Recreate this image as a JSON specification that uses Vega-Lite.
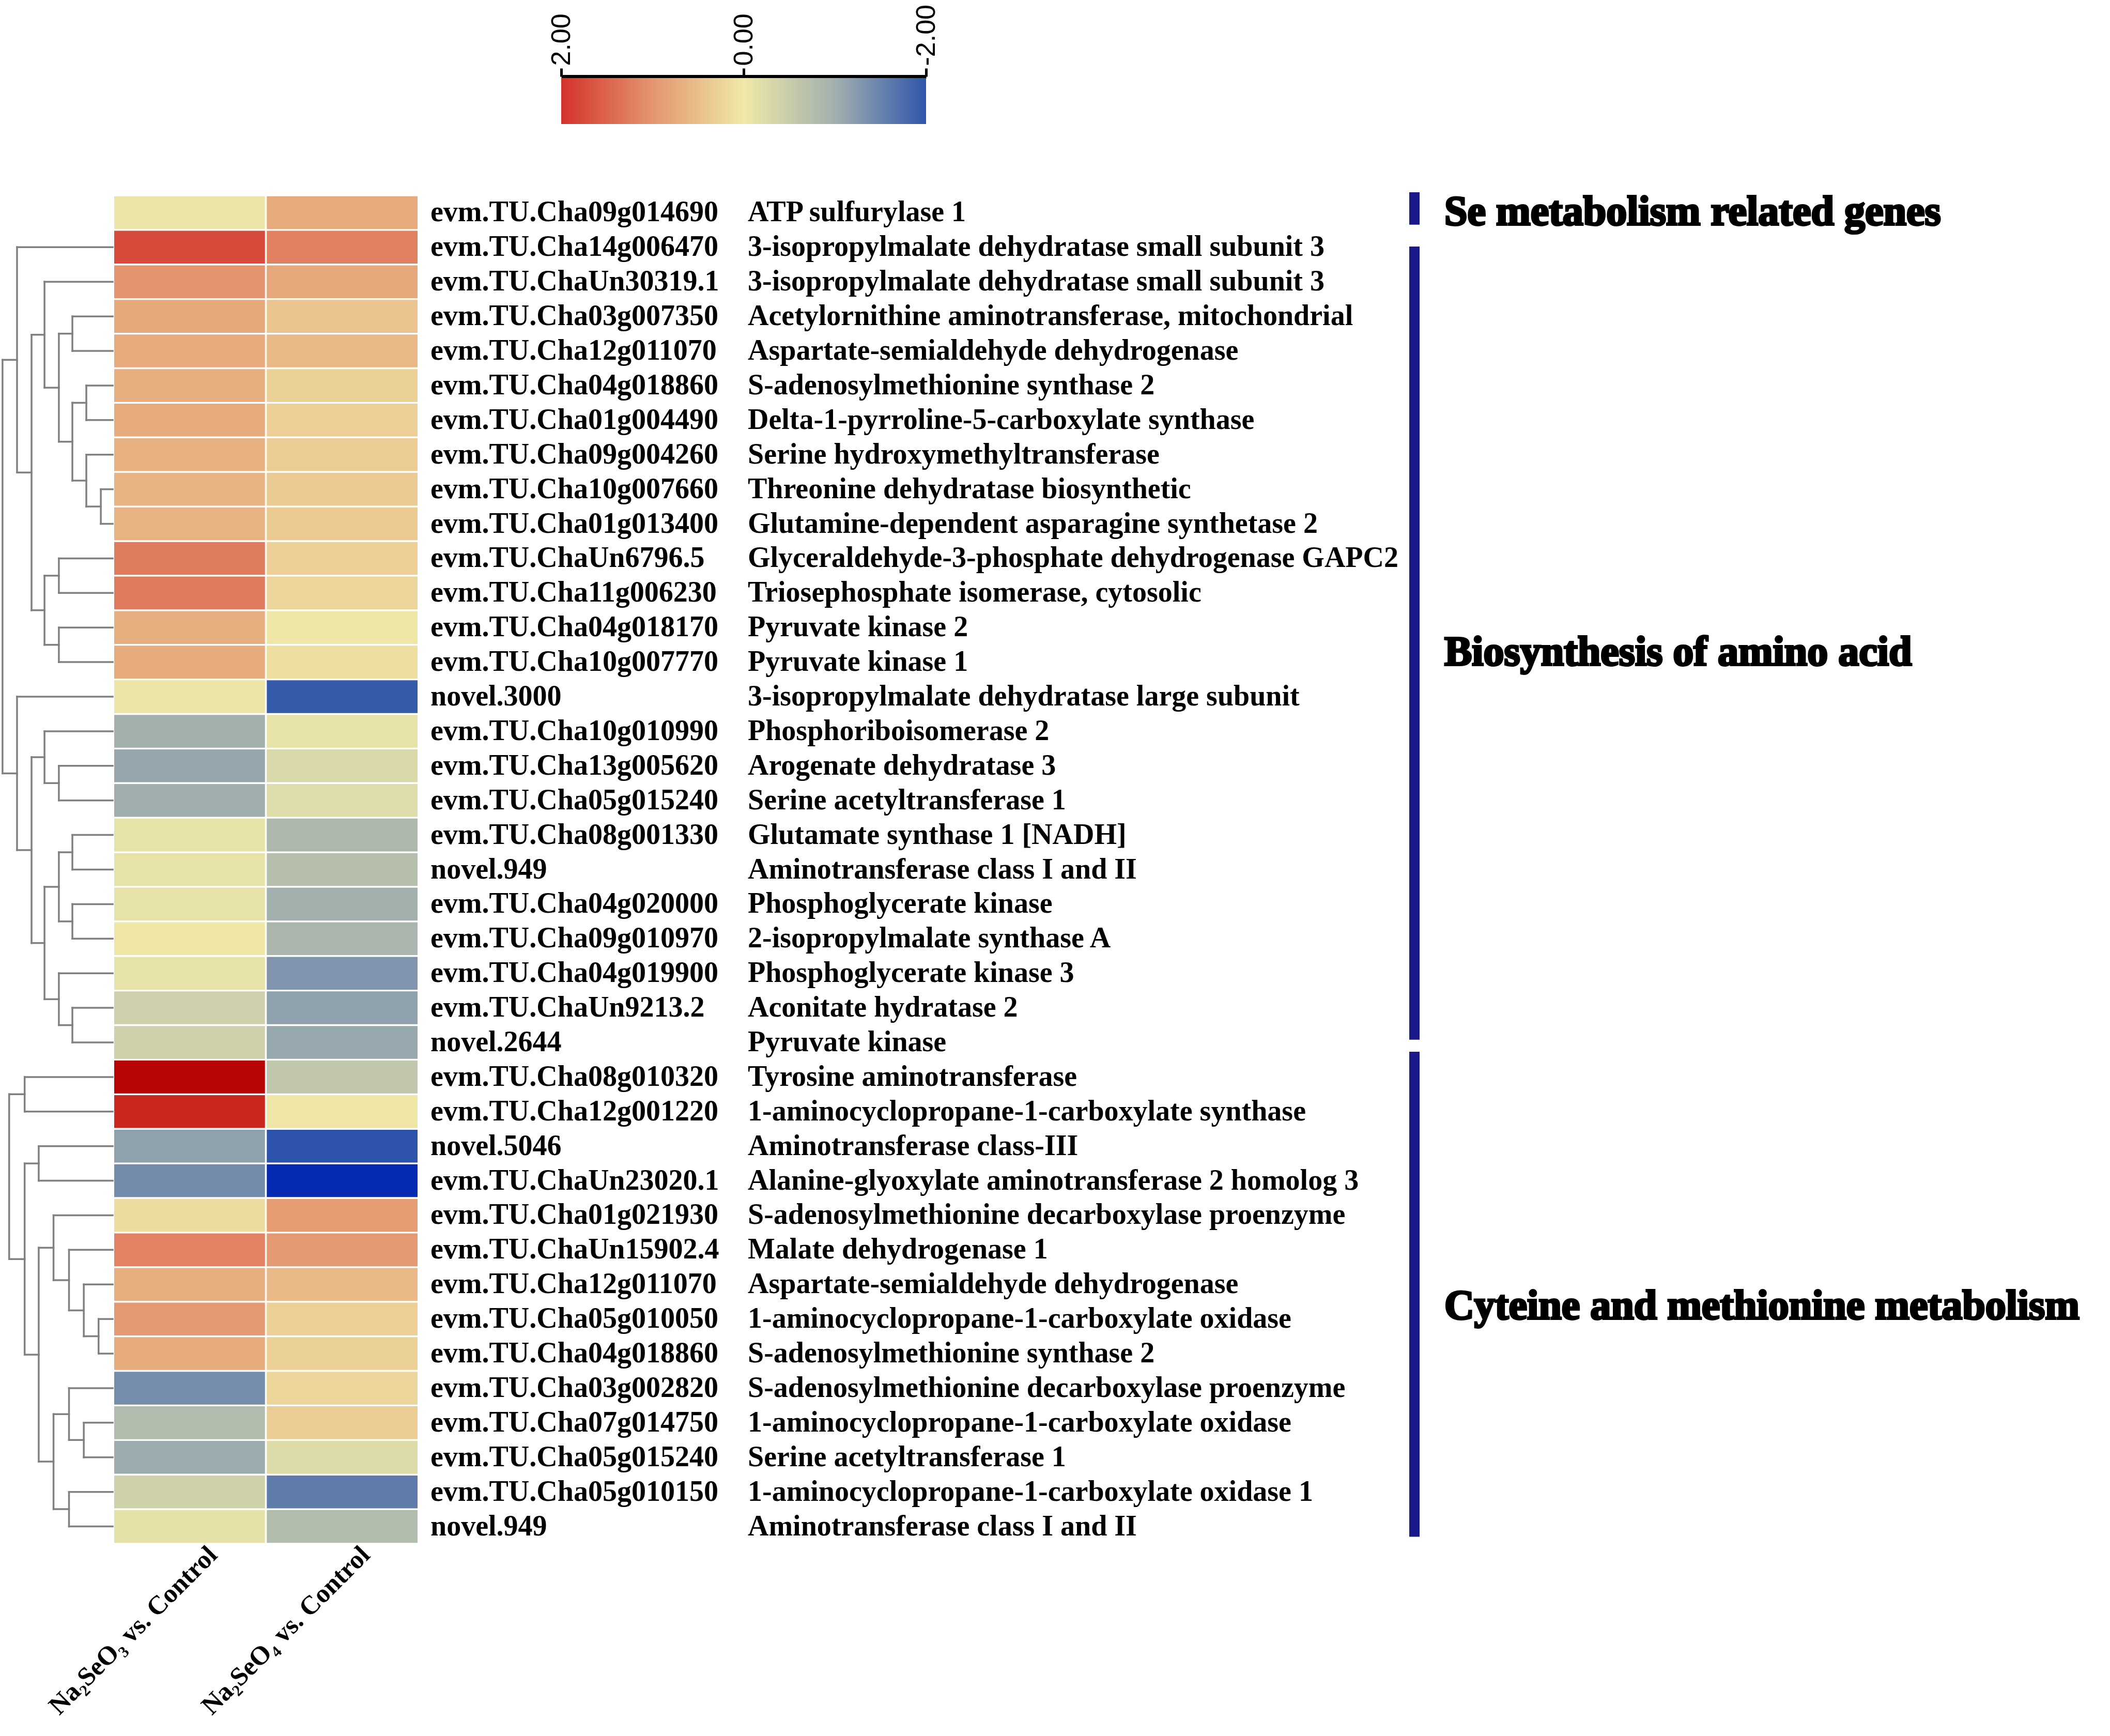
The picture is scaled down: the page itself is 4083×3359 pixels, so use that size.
{
  "$schema": "https://vega.github.io/schema/vega-lite/v6.json",
  "width": 4083,
  "height": 3359,
  "padding": 0,
  "autosize": {"type": "none"},
  "background": "white",
  "config": {"view": {"stroke": null}, "font": "Liberation Serif"},
  "datasets": {
    "genes": [
      {"key": "r00", "group": "Se", "id": "evm.TU.Cha09g014690", "desc": "ATP sulfurylase 1", "S3": -0.05, "S4": 0.75},
      {"key": "r01", "group": "Bio", "id": "evm.TU.Cha14g006470", "desc": "3-isopropylmalate dehydratase small subunit 3", "S3": 1.76, "S4": 1.21},
      {"key": "r02", "group": "Bio", "id": "evm.TU.ChaUn30319.1", "desc": "3-isopropylmalate dehydratase small subunit 3", "S3": 1.0, "S4": 0.79},
      {"key": "r03", "group": "Bio", "id": "evm.TU.Cha03g007350", "desc": "Acetylornithine aminotransferase, mitochondrial", "S3": 0.76, "S4": 0.43},
      {"key": "r04", "group": "Bio", "id": "evm.TU.Cha12g011070", "desc": "Aspartate-semialdehyde dehydrogenase", "S3": 0.75, "S4": 0.57},
      {"key": "r05", "group": "Bio", "id": "evm.TU.Cha04g018860", "desc": "S-adenosylmethionine synthase 2", "S3": 0.7, "S4": 0.29},
      {"key": "r06", "group": "Bio", "id": "evm.TU.Cha01g004490", "desc": "Delta-1-pyrroline-5-carboxylate synthase", "S3": 0.73, "S4": 0.31},
      {"key": "r07", "group": "Bio", "id": "evm.TU.Cha09g004260", "desc": "Serine hydroxymethyltransferase", "S3": 0.67, "S4": 0.35},
      {"key": "r08", "group": "Bio", "id": "evm.TU.Cha10g007660", "desc": "Threonine dehydratase biosynthetic", "S3": 0.63, "S4": 0.36},
      {"key": "r09", "group": "Bio", "id": "evm.TU.Cha01g013400", "desc": "Glutamine-dependent asparagine synthetase 2", "S3": 0.64, "S4": 0.37},
      {"key": "r10", "group": "Bio", "id": "evm.TU.ChaUn6796.5", "desc": "Glyceraldehyde-3-phosphate dehydrogenase GAPC2", "S3": 1.25, "S4": 0.3},
      {"key": "r11", "group": "Bio", "id": "evm.TU.Cha11g006230", "desc": "Triosephosphate isomerase, cytosolic", "S3": 1.27, "S4": 0.24},
      {"key": "r12", "group": "Bio", "id": "evm.TU.Cha04g018170", "desc": "Pyruvate kinase 2", "S3": 0.7, "S4": 0.02},
      {"key": "r13", "group": "Bio", "id": "evm.TU.Cha10g007770", "desc": "Pyruvate kinase 1", "S3": 0.73, "S4": 0.12},
      {"key": "r14", "group": "Bio", "id": "novel.3000", "desc": "3-isopropylmalate dehydratase large subunit", "S3": -0.05, "S4": -1.95},
      {"key": "r15", "group": "Bio", "id": "evm.TU.Cha10g010990", "desc": "Phosphoriboisomerase 2", "S3": -0.99, "S4": -0.1},
      {"key": "r16", "group": "Bio", "id": "evm.TU.Cha13g005620", "desc": "Arogenate dehydratase 3", "S3": -1.11, "S4": -0.29},
      {"key": "r17", "group": "Bio", "id": "evm.TU.Cha05g015240", "desc": "Serine acetyltransferase 1", "S3": -1.02, "S4": -0.22},
      {"key": "r18", "group": "Bio", "id": "evm.TU.Cha08g001330", "desc": "Glutamate synthase 1 [NADH]", "S3": -0.12, "S4": -0.84},
      {"key": "r19", "group": "Bio", "id": "novel.949", "desc": "Aminotransferase class I and II", "S3": -0.12, "S4": -0.74},
      {"key": "r20", "group": "Bio", "id": "evm.TU.Cha04g020000", "desc": "Phosphoglycerate kinase", "S3": -0.11, "S4": -0.99},
      {"key": "r21", "group": "Bio", "id": "evm.TU.Cha09g010970", "desc": "2-isopropylmalate synthase A", "S3": 0.03, "S4": -0.9},
      {"key": "r22", "group": "Bio", "id": "evm.TU.Cha04g019900", "desc": "Phosphoglycerate kinase 3", "S3": -0.11, "S4": -1.3},
      {"key": "r23", "group": "Bio", "id": "evm.TU.ChaUn9213.2", "desc": "Aconitate hydratase 2", "S3": -0.44, "S4": -1.17},
      {"key": "r24", "group": "Bio", "id": "novel.2644", "desc": "Pyruvate kinase", "S3": -0.42, "S4": -1.1},
      {"key": "r25", "group": "Cys", "id": "evm.TU.Cha08g010320", "desc": "Tyrosine aminotransferase", "S3": 2.9, "S4": -0.62},
      {"key": "r26", "group": "Cys", "id": "evm.TU.Cha12g001220", "desc": "1-aminocyclopropane-1-carboxylate synthase", "S3": 2.24, "S4": 0.04},
      {"key": "r27", "group": "Cys", "id": "novel.5046", "desc": "Aminotransferase class-III", "S3": -1.17, "S4": -2.05},
      {"key": "r28", "group": "Cys", "id": "evm.TU.ChaUn23020.1", "desc": "Alanine-glyoxylate aminotransferase 2 homolog 3", "S3": -1.4, "S4": -2.9},
      {"key": "r29", "group": "Cys", "id": "evm.TU.Cha01g021930", "desc": "S-adenosylmethionine decarboxylase proenzyme", "S3": 0.15, "S4": 0.92},
      {"key": "r30", "group": "Cys", "id": "evm.TU.ChaUn15902.4", "desc": "Malate dehydrogenase 1", "S3": 1.19, "S4": 0.95},
      {"key": "r31", "group": "Cys", "id": "evm.TU.Cha12g011070", "desc": "Aspartate-semialdehyde dehydrogenase", "S3": 0.7, "S4": 0.57},
      {"key": "r32", "group": "Cys", "id": "evm.TU.Cha05g010050", "desc": "1-aminocyclopropane-1-carboxylate oxidase", "S3": 0.95, "S4": 0.3},
      {"key": "r33", "group": "Cys", "id": "evm.TU.Cha04g018860", "desc": "S-adenosylmethionine synthase 2", "S3": 0.73, "S4": 0.29},
      {"key": "r34", "group": "Cys", "id": "evm.TU.Cha03g002820", "desc": "S-adenosylmethionine decarboxylase proenzyme", "S3": -1.39, "S4": 0.24},
      {"key": "r35", "group": "Cys", "id": "evm.TU.Cha07g014750", "desc": "1-aminocyclopropane-1-carboxylate oxidase", "S3": -0.79, "S4": 0.35},
      {"key": "r36", "group": "Cys", "id": "evm.TU.Cha05g015240", "desc": "Serine acetyltransferase 1", "S3": -1.06, "S4": -0.23},
      {"key": "r37", "group": "Cys", "id": "evm.TU.Cha05g010150", "desc": "1-aminocyclopropane-1-carboxylate oxidase 1", "S3": -0.42, "S4": -1.58},
      {"key": "r38", "group": "Cys", "id": "novel.949", "desc": "Aminotransferase class I and II", "S3": -0.13, "S4": -0.79}
    ],
    "segments": [
      {"h1": 0.84, "h2": 0.84, "y1": 8, "y2": 9},
      {"h1": 1.87, "h2": 1.87, "y1": 5, "y2": 6},
      {"h1": 1.87, "h2": 1.87, "y1": 7, "y2": 8.5},
      {"h1": 2.86, "h2": 2.86, "y1": 3, "y2": 4},
      {"h1": 2.86, "h2": 2.86, "y1": 5.5, "y2": 7.75},
      {"h1": 3.82, "h2": 3.82, "y1": 3.5, "y2": 6.625},
      {"h1": 4.84, "h2": 4.84, "y1": 2, "y2": 5.0625},
      {"h1": 3.82, "h2": 3.82, "y1": 10, "y2": 11},
      {"h1": 3.82, "h2": 3.82, "y1": 12, "y2": 13},
      {"h1": 4.84, "h2": 4.84, "y1": 10.5, "y2": 12.5},
      {"h1": 5.76, "h2": 5.76, "y1": 3.53125, "y2": 11.5},
      {"h1": 6.79, "h2": 6.79, "y1": 1, "y2": 7.515625},
      {"h1": 3.82, "h2": 3.82, "y1": 16, "y2": 17},
      {"h1": 4.84, "h2": 4.84, "y1": 15, "y2": 16.5},
      {"h1": 2.86, "h2": 2.86, "y1": 18, "y2": 19},
      {"h1": 2.86, "h2": 2.86, "y1": 20, "y2": 21},
      {"h1": 3.82, "h2": 3.82, "y1": 18.5, "y2": 20.5},
      {"h1": 2.86, "h2": 2.86, "y1": 23, "y2": 24},
      {"h1": 3.82, "h2": 3.82, "y1": 22, "y2": 23.5},
      {"h1": 4.84, "h2": 4.84, "y1": 19.5, "y2": 22.75},
      {"h1": 5.76, "h2": 5.76, "y1": 15.75, "y2": 21.125},
      {"h1": 6.79, "h2": 6.79, "y1": 14, "y2": 18.4375},
      {"h1": 7.82, "h2": 7.82, "y1": 4.2578, "y2": 16.2188},
      {"h1": 0, "h2": 6.79, "y1": 1, "y2": 1},
      {"h1": 0, "h2": 4.84, "y1": 2, "y2": 2},
      {"h1": 0, "h2": 2.86, "y1": 3, "y2": 3},
      {"h1": 0, "h2": 2.86, "y1": 4, "y2": 4},
      {"h1": 0, "h2": 1.87, "y1": 5, "y2": 5},
      {"h1": 0, "h2": 1.87, "y1": 6, "y2": 6},
      {"h1": 0, "h2": 1.87, "y1": 7, "y2": 7},
      {"h1": 0, "h2": 0.84, "y1": 8, "y2": 8},
      {"h1": 0, "h2": 0.84, "y1": 9, "y2": 9},
      {"h1": 0, "h2": 3.82, "y1": 10, "y2": 10},
      {"h1": 0, "h2": 3.82, "y1": 11, "y2": 11},
      {"h1": 0, "h2": 3.82, "y1": 12, "y2": 12},
      {"h1": 0, "h2": 3.82, "y1": 13, "y2": 13},
      {"h1": 0, "h2": 6.79, "y1": 14, "y2": 14},
      {"h1": 0, "h2": 4.84, "y1": 15, "y2": 15},
      {"h1": 0, "h2": 3.82, "y1": 16, "y2": 16},
      {"h1": 0, "h2": 3.82, "y1": 17, "y2": 17},
      {"h1": 0, "h2": 2.86, "y1": 18, "y2": 18},
      {"h1": 0, "h2": 2.86, "y1": 19, "y2": 19},
      {"h1": 0, "h2": 2.86, "y1": 20, "y2": 20},
      {"h1": 0, "h2": 2.86, "y1": 21, "y2": 21},
      {"h1": 0, "h2": 3.82, "y1": 22, "y2": 22},
      {"h1": 0, "h2": 2.86, "y1": 23, "y2": 23},
      {"h1": 0, "h2": 2.86, "y1": 24, "y2": 24},
      {"h1": 0.84, "h2": 1.87, "y1": 8.5, "y2": 8.5},
      {"h1": 1.87, "h2": 2.86, "y1": 5.5, "y2": 5.5},
      {"h1": 1.87, "h2": 2.86, "y1": 7.75, "y2": 7.75},
      {"h1": 2.86, "h2": 3.82, "y1": 3.5, "y2": 3.5},
      {"h1": 2.86, "h2": 3.82, "y1": 6.625, "y2": 6.625},
      {"h1": 3.82, "h2": 4.84, "y1": 5.0625, "y2": 5.0625},
      {"h1": 4.84, "h2": 5.76, "y1": 3.53125, "y2": 3.53125},
      {"h1": 3.82, "h2": 4.84, "y1": 10.5, "y2": 10.5},
      {"h1": 3.82, "h2": 4.84, "y1": 12.5, "y2": 12.5},
      {"h1": 4.84, "h2": 5.76, "y1": 11.5, "y2": 11.5},
      {"h1": 5.76, "h2": 6.79, "y1": 7.515625, "y2": 7.515625},
      {"h1": 6.79, "h2": 7.82, "y1": 4.2578, "y2": 4.2578},
      {"h1": 3.82, "h2": 4.84, "y1": 16.5, "y2": 16.5},
      {"h1": 4.84, "h2": 5.76, "y1": 15.75, "y2": 15.75},
      {"h1": 2.86, "h2": 3.82, "y1": 18.5, "y2": 18.5},
      {"h1": 2.86, "h2": 3.82, "y1": 20.5, "y2": 20.5},
      {"h1": 2.86, "h2": 3.82, "y1": 23.5, "y2": 23.5},
      {"h1": 3.82, "h2": 4.84, "y1": 19.5, "y2": 19.5},
      {"h1": 3.82, "h2": 4.84, "y1": 22.75, "y2": 22.75},
      {"h1": 4.84, "h2": 5.76, "y1": 21.125, "y2": 21.125},
      {"h1": 5.76, "h2": 6.79, "y1": 18.4375, "y2": 18.4375},
      {"h1": 6.79, "h2": 7.82, "y1": 16.2188, "y2": 16.2188},
      {"h1": 6.25, "h2": 6.25, "y1": 25, "y2": 26},
      {"h1": 5.25, "h2": 5.25, "y1": 27, "y2": 28},
      {"h1": 1.0, "h2": 1.0, "y1": 32, "y2": 33},
      {"h1": 2.05, "h2": 2.05, "y1": 31, "y2": 32.5},
      {"h1": 3.1, "h2": 3.1, "y1": 30, "y2": 31.75},
      {"h1": 4.2, "h2": 4.2, "y1": 29, "y2": 30.875},
      {"h1": 2.05, "h2": 2.05, "y1": 35, "y2": 36},
      {"h1": 3.1, "h2": 3.1, "y1": 34, "y2": 35.5},
      {"h1": 3.1, "h2": 3.1, "y1": 37, "y2": 38},
      {"h1": 4.2, "h2": 4.2, "y1": 34.75, "y2": 37.5},
      {"h1": 5.25, "h2": 5.25, "y1": 29.9375, "y2": 36.125},
      {"h1": 6.25, "h2": 6.25, "y1": 27.5, "y2": 33.0313},
      {"h1": 7.35, "h2": 7.35, "y1": 25.5, "y2": 30.2656},
      {"h1": 0, "h2": 6.25, "y1": 25, "y2": 25},
      {"h1": 0, "h2": 6.25, "y1": 26, "y2": 26},
      {"h1": 0, "h2": 5.25, "y1": 27, "y2": 27},
      {"h1": 0, "h2": 5.25, "y1": 28, "y2": 28},
      {"h1": 0, "h2": 4.2, "y1": 29, "y2": 29},
      {"h1": 0, "h2": 3.1, "y1": 30, "y2": 30},
      {"h1": 0, "h2": 2.05, "y1": 31, "y2": 31},
      {"h1": 0, "h2": 1.0, "y1": 32, "y2": 32},
      {"h1": 0, "h2": 1.0, "y1": 33, "y2": 33},
      {"h1": 0, "h2": 3.1, "y1": 34, "y2": 34},
      {"h1": 0, "h2": 2.05, "y1": 35, "y2": 35},
      {"h1": 0, "h2": 2.05, "y1": 36, "y2": 36},
      {"h1": 0, "h2": 3.1, "y1": 37, "y2": 37},
      {"h1": 0, "h2": 3.1, "y1": 38, "y2": 38},
      {"h1": 1.0, "h2": 2.05, "y1": 32.5, "y2": 32.5},
      {"h1": 2.05, "h2": 3.1, "y1": 31.75, "y2": 31.75},
      {"h1": 3.1, "h2": 4.2, "y1": 30.875, "y2": 30.875},
      {"h1": 4.2, "h2": 5.25, "y1": 29.9375, "y2": 29.9375},
      {"h1": 2.05, "h2": 3.1, "y1": 35.5, "y2": 35.5},
      {"h1": 3.1, "h2": 4.2, "y1": 34.75, "y2": 34.75},
      {"h1": 3.1, "h2": 4.2, "y1": 37.5, "y2": 37.5},
      {"h1": 4.2, "h2": 5.25, "y1": 36.125, "y2": 36.125},
      {"h1": 5.25, "h2": 6.25, "y1": 33.0313, "y2": 33.0313},
      {"h1": 5.25, "h2": 6.25, "y1": 27.5, "y2": 27.5},
      {"h1": 6.25, "h2": 7.35, "y1": 25.5, "y2": 25.5},
      {"h1": 6.25, "h2": 7.35, "y1": 30.2656, "y2": 30.2656}
    ],
    "groups": [
      {"group": "Se metabolism related genes", "from": -0.59, "to": 0.35, "mid": 0},
      {"group": "Biosynthesis of amino acid", "from": 0.98, "to": 23.92, "mid": 12.73},
      {"group": "Cyteine and methionine metabolism", "from": 24.27, "to": 38.3, "mid": 31.64}
    ],
    "legend": [{"hi": 2, "lo": -2}]
  },
  "resolve": {"scale": {"x": "independent", "y": "independent"}, "axis": {"x": "independent", "y": "independent"}},
  "layer": [
    {
      "data": {"name": "segments"},
      "mark": {"type": "rule", "color": "#808080", "strokeWidth": 3.5, "strokeCap": "square"},
      "encoding": {
        "x": {"field": "h1", "type": "quantitative", "scale": {"domain": [0, 8], "range": [218, 0], "zero": false, "nice": false}, "axis": null},
        "x2": {"field": "h2"},
        "y": {"field": "y1", "type": "quantitative", "scale": {"domain": [-0.5, 38.5], "range": [378, 2987], "zero": false, "nice": false}, "axis": null},
        "y2": {"field": "y2"}
      }
    },
    {
      "data": {"name": "genes"},
      "resolve": {"scale": {"x": "independent"}, "axis": {"x": "independent"}},
      "encoding": {
        "y": {"field": "key", "type": "nominal", "scale": {"type": "band", "range": [378, 2987], "paddingInner": 0.05, "paddingOuter": 0.025}, "axis": null}
      },
      "layer": [
        {
          "transform": [{"fold": ["S3", "S4"], "as": ["sample", "value"]}],
          "mark": {"type": "rect"},
          "encoding": {
            "x": {
              "field": "sample", "type": "nominal",
              "scale": {"type": "band", "domain": ["S3", "S4"], "range": [221, 808], "paddingInner": 0.012, "paddingOuter": 0},
              "axis": {
                "orient": "bottom", "offset": -384, "title": null, "domain": false, "ticks": false,
                "labelAngle": -45, "labelFont": "Liberation Serif", "labelFontWeight": "bold", "labelFontSize": 51,
                "labelColor": "black", "labelPadding": 8, "labelOffset": 28, "labelLimit": 0,
                "labelExpr": "datum.value == 'S3' ? 'Na₂SeO₃ vs. Control' : 'Na₂SeO₄ vs. Control'"
              }
            },
            "color": {
              "field": "value", "type": "quantitative",
              "scale": {"domain": [-3, -2, -1, 0, 1, 2, 3], "range": ["#0026B4", "#2F56A9", "#A2B0AE", "#EFE9A7", "#E4956F", "#D4322C", "#B30000"], "interpolate": "rgb"},
              "legend": null
            }
          }
        },
        {
          "transform": [{"fold": ["id", "desc"], "as": ["column", "label"]}],
          "mark": {"type": "text", "align": "left", "baseline": "middle", "font": "Liberation Serif", "fontWeight": "bold", "fontSize": 56, "color": "black"},
          "encoding": {
            "x": {"field": "column", "type": "nominal", "scale": {"type": "point", "domain": ["id", "desc"], "range": [833, 1447], "padding": 0}, "axis": null},
            "text": {"field": "label"}
          }
        }
      ]
    },
    {
      "data": {"name": "groups"},
      "encoding": {
        "x": {"datum": "bar", "type": "nominal", "scale": {"type": "point", "domain": ["bar", "label"], "range": [2737, 2795], "padding": 0}, "axis": null}
      },
      "layer": [
        {
          "mark": {"type": "rule", "color": "#1B1A8A", "strokeWidth": 20},
          "encoding": {
            "y": {"field": "from", "type": "quantitative", "scale": {"domain": [-0.5, 38.5], "range": [378, 2987], "zero": false, "nice": false}, "axis": null},
            "y2": {"field": "to"}
          }
        },
        {
          "mark": {"type": "text", "align": "left", "baseline": "middle", "font": "Liberation Serif", "fontWeight": "bold", "fontSize": 80, "color": "black", "stroke": "black", "strokeWidth": 4},
          "encoding": {
            "x": {"datum": "label", "type": "nominal"},
            "y": {"field": "mid", "type": "quantitative", "scale": {"domain": [-0.5, 38.5], "range": [378, 2987], "zero": false, "nice": false}, "axis": null},
            "text": {"field": "group"}
          }
        }
      ]
    },
    {
      "data": {"name": "legend"},
      "mark": {
        "type": "rect",
        "fill": {
          "gradient": "linear", "x1": 0, "y1": 0, "x2": 1, "y2": 0,
          "stops": [
            {"offset": 0, "color": "#D4322C"},
            {"offset": 0.25, "color": "#E4956F"},
            {"offset": 0.5, "color": "#EFE9A7"},
            {"offset": 0.75, "color": "#A2B0AE"},
            {"offset": 1, "color": "#2F56A9"}
          ]
        }
      },
      "encoding": {
        "x": {
          "field": "hi", "type": "quantitative",
          "scale": {"domain": [2, -2], "range": [1086, 1792], "zero": false, "nice": false},
          "axis": {
            "orient": "top", "offset": -148, "title": null, "values": [2, 0, -2],
            "labelExpr": "replace(format(datum.value, '.2f'), '−', '-')",
            "domainColor": "black", "domainWidth": 7, "tickColor": "black", "tickWidth": 5, "tickSize": 16,
            "labelAngle": -90, "labelFont": "Liberation Sans", "labelFontSize": 52, "labelColor": "black", "labelPadding": 5,
            "grid": false, "labelOverlap": false, "labelFlush": false, "labelLimit": 0
          }
        },
        "x2": {"field": "lo"},
        "y": {"datum": 0, "type": "quantitative", "scale": {"domain": [0, 1], "range": [151, 240], "zero": false, "nice": false}, "axis": null},
        "y2": {"datum": 1}
      }
    }
  ]
}
